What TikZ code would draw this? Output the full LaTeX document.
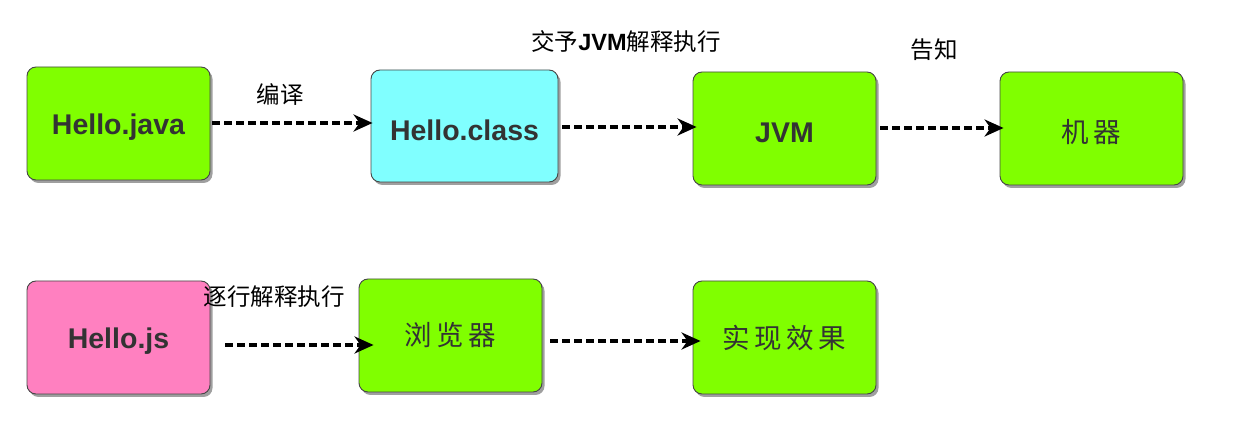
\documentclass[tikz,border=0pt]{standalone}
\usepackage{fontspec}
\setmainfont{Liberation Sans}
\newfontfamily\cjk{Noto Sans CJK SC}
\usetikzlibrary{shadows,arrows.meta}
\definecolor{boxgreen}{RGB}{128,255,0}
\definecolor{boxcyan}{RGB}{128,255,255}
\definecolor{boxpink}{RGB}{255,128,192}
\definecolor{txtgray}{RGB}{51,51,51}
\definecolor{edgegray}{RGB}{70,70,70}
\newcommand{\dn}[1]{\raisebox{-4pt}[\height][\depth]{#1}}
\tikzset{
  box/.style={draw=edgegray, line width=0.9pt, rounded corners=9pt,
    minimum width=183pt, minimum height=113pt, inner sep=0pt,
    text=txtgray, drop shadow={shadow xshift=2.5pt, shadow yshift=-3pt, opacity=0.5, fill=black!75}},
  entxt/.style={font=\fontsize{28.5}{30}\selectfont\bfseries},
  cntxt/.style={font=\cjk\fontsize{27.5}{30}\selectfont},
  lbl/.style={font=\cjk\fontsize{23.5}{26}\selectfont, text=black, inner sep=1pt},
  arr/.style={draw=black, line width=3.3pt, dash pattern=on 8pt off 4pt,
    -{Stealth[length=19pt,width=17pt,inset=6pt]}}
}
\begin{document}
\begin{tikzpicture}[x=1pt,y=-1pt]
\useasboundingbox (0,0) rectangle (1245,435);
\node[box, fill=boxgreen, entxt] (java) at (118.5,123.5) {\dn{Hello.java}};
\node[box, fill=boxcyan, entxt, minimum width=187pt, minimum height=112pt] (cls) at (464.5,126) {\dn{Hello.class}};
\node[box, fill=boxgreen, entxt] (jvm) at (784.5,128.5) {\dn{JVM}};
\node[box, fill=boxgreen, cntxt] (jq) at (1091.5,128.5) {\dn{机\,器}};
\node[box, fill=boxpink, entxt] (js) at (118.5,337.5) {\dn{Hello.js}};
\node[box, fill=boxgreen, cntxt] (br) at (450.5,335.5) {浏\,览\,器};
\node[box, fill=boxgreen, cntxt] (xg) at (784.5,337.5) {实\,现\,效\,果};

\draw[arr] ([xshift=2pt,yshift=0.5pt]java.east) -- ([xshift=2pt,yshift=0.5pt]java.east -| cls.west);
\draw[arr] ([xshift=4pt,yshift=-1pt]cls.east) -- ([xshift=4pt,yshift=-1pt]cls.east -| jvm.west);
\draw[arr] ([xshift=4pt,yshift=0.5pt]jvm.east) -- ([xshift=4pt,yshift=0.5pt]jvm.east -| jq.west);
\draw[arr] ([xshift=15pt,yshift=-7.5pt]js.east) -- ([xshift=15pt,yshift=-7.5pt]js.east -| br.west);
\draw[arr] ([xshift=8pt,yshift=-5.5pt]br.east) -- ([xshift=8pt,yshift=-5.5pt]br.east -| xg.west);

\node[lbl] (l1) at (280,95) {编译};
\node[lbl] (l2) at (626,42) {交予{\fontspec{Liberation Sans}\bfseries JVM}解释执行};
\node[lbl] (l3) at (934,50) {告知};
\node[lbl] (l4) at (274,297) {逐行解释执行};
\end{tikzpicture}
\end{document}
